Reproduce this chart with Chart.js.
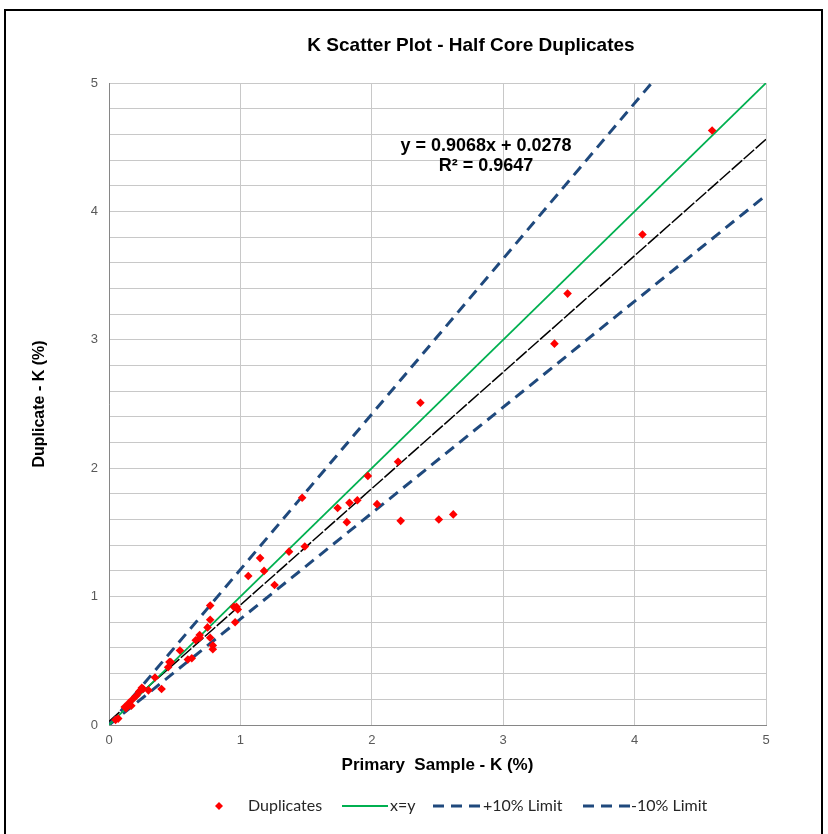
<!DOCTYPE html>
<html><head><meta charset="utf-8">
<script src="https://cdn.jsdelivr.net/npm/chart.js@4.4.0/dist/chart.umd.min.js"></script>
<style>html,body{margin:0;padding:0;background:#fff;} canvas{display:block}</style>
</head><body>
<canvas id="c" width="828" height="834"></canvas>
<script>
// ---- data ----
const dupX = [4.59, 4.06, 3.49, 3.39, 2.37, 2.20, 1.97, 1.47, 1.74, 1.83, 1.89, 2.04, 1.81, 2.22, 2.51, 2.62,
              1.49, 1.37, 1.15, 1.18, 1.06, 1.26, 0.97, 0.95, 0.98, 0.96, 0.77, 0.77, 0.75, 0.69, 0.69, 0.66,
              0.77, 0.79, 0.79, 0.54, 0.60, 0.63, 0.46, 0.47, 0.45, 0.35, 0.40, 0.30, 0.26, 0.25, 0.23, 0.21,
              0.18, 0.15, 0.17, 0.13, 0.12, 0.07, 0.05];
const dupY = [4.63, 3.82, 3.36, 2.97, 2.51, 2.05, 1.94, 1.77, 1.69, 1.73, 1.75, 1.72, 1.58, 1.59, 1.60, 1.64,
              1.39, 1.35, 1.30, 1.20, 1.16, 1.09, 0.92, 0.92, 0.90, 0.80, 0.93, 0.82, 0.76, 0.70, 0.68, 0.66,
              0.68, 0.62, 0.59, 0.58, 0.51, 0.52, 0.49, 0.49, 0.45, 0.37, 0.28, 0.27, 0.28, 0.29, 0.26, 0.23,
              0.20, 0.17, 0.15, 0.13, 0.14, 0.05, 0.04];
const xyLineX = [0, 5];     const xyLineY = [0, 5];
const plusLimX = [0, 4.13]; const plusLimY = [0, 5];
const minusLimX = [0, 5];   const minusLimY = [0, 4.125];
const trendX = [0, 5];      const trendY = [0.0278, 4.5618];
const seriesNames = ['Duplicates', 'x=y', '+10% Limit', '-10% Limit'];
const chartTitle = 'K Scatter Plot - Half Core Duplicates';
const equationLines = ['y = 0.9068x + 0.0278', 'R\u00B2 = 0.9647'];
const xAxisTitle = 'Primary  Sample - K (%)';
const yAxisTitle = 'Duplicate - K (%)';

const zip = (xs, ys) => xs.map((x, i) => ({x: x, y: ys[i]}));
const FONT = "'Liberation Sans', Arial, sans-serif";
const RED = '#ff0000', GREEN = '#00b050', NAVY = '#1f497d';
const GRID = '#c8c8c8';

const decor = {
  id: 'decor',
  beforeDraw(chart) {
    const ctx = chart.ctx;
    ctx.save();
    ctx.fillStyle = '#fff';
    ctx.fillRect(0, 0, chart.width, chart.height);
    ctx.restore();
  },
  afterDraw(chart) {
    const ctx = chart.ctx;
    ctx.save();
    // outer chart border
    ctx.strokeStyle = '#000';
    ctx.lineWidth = 2;
    ctx.strokeRect(5, 10, 817, 900);
    // title
    ctx.fillStyle = '#000';
    ctx.textAlign = 'center';
    ctx.textBaseline = 'middle';
    ctx.font = 'bold 19px ' + FONT;
    ctx.fillText(chartTitle, 471, 46);
    // trendline equation
    ctx.font = 'bold 18px ' + FONT;
    ctx.fillText(equationLines[0], 486, 146);
    ctx.fillText(equationLines[1], 486, 166);
    // legend
    const ly = 806;
    ctx.textAlign = 'left';
    ctx.font = '16px Lato, ' + FONT;
    // diamond
    ctx.fillStyle = RED;
    ctx.beginPath();
    ctx.moveTo(219, ly - 4); ctx.lineTo(223, ly); ctx.lineTo(219, ly + 4); ctx.lineTo(215, ly); ctx.closePath();
    ctx.fill();
    ctx.fillStyle = '#262626';
    ctx.fillText(seriesNames[0], 248, ly);
    // green line
    ctx.strokeStyle = GREEN; ctx.lineWidth = 2;
    ctx.beginPath(); ctx.moveTo(342, ly); ctx.lineTo(388, ly); ctx.stroke();
    ctx.fillText(seriesNames[1], 390, ly);
    // dashed lines
    ctx.strokeStyle = NAVY; ctx.lineWidth = 3; ctx.setLineDash([11, 7]);
    ctx.beginPath(); ctx.moveTo(433, ly); ctx.lineTo(480, ly); ctx.stroke();
    ctx.beginPath(); ctx.moveTo(583, ly); ctx.lineTo(630, ly); ctx.stroke();
    ctx.setLineDash([]);
    ctx.fillText(seriesNames[2], 483, ly);
    ctx.fillText(seriesNames[3], 631, ly);
    ctx.restore();
  }
};

new Chart(document.getElementById('c'), {
  type: 'scatter',
  data: {
    datasets: [
      { label: seriesNames[0], data: zip(dupX, dupY), pointStyle: 'rectRot', pointRadius: 4.3,
        pointBackgroundColor: RED, pointBorderColor: RED, pointBorderWidth: 0, showLine: false },
      { label: seriesNames[1], data: zip(xyLineX, xyLineY), showLine: true, pointRadius: 0,
        borderColor: GREEN, borderWidth: 1.75 },
      { label: seriesNames[2], data: zip(plusLimX, plusLimY), showLine: true, pointRadius: 0,
        borderColor: NAVY, borderWidth: 3, borderDash: [11, 7] },
      { label: seriesNames[3], data: zip(minusLimX, minusLimY), showLine: true, pointRadius: 0,
        borderColor: NAVY, borderWidth: 3, borderDash: [11, 7] },
      { label: 'Linear (Duplicates)', data: zip(trendX, trendY), showLine: true, pointRadius: 0,
        borderColor: '#000', borderWidth: 1.5, borderDash: [14, 2] }
    ]
  },
  options: {
    responsive: false,
    animation: false,
    devicePixelRatio: 1,
    layout: { padding: { left: 0, right: 62, top: 83, bottom: 49 } },
    plugins: { legend: { display: false }, title: { display: false }, tooltip: { enabled: false } },
    scales: {
      x: {
        type: 'linear', min: 0, max: 5, position: 'bottom',
        ticks: { stepSize: 1, color: '#595959', font: { family: FONT, size: 13 }, padding: 8 },
        grid: { color: GRID, drawTicks: false, lineWidth: 1 },
        border: { color: '#868686', width: 1 },
        title: { display: true, text: xAxisTitle, color: '#000',
                 font: { family: FONT, size: 17, weight: 'bold' }, padding: { top: 0, bottom: 9 } },
        afterFit: s => { s.height = 60; }
      },
      y: {
        type: 'linear', min: 0, max: 5,
        ticks: { stepSize: 0.2, maxTicksLimit: 100, autoSkip: false, color: '#595959',
                 font: { family: FONT, size: 13 }, padding: 11,
                 callback: v => Math.abs(v - Math.round(v)) < 1e-6 ? String(Math.round(v)) : '' },
        grid: { color: GRID, drawTicks: false, lineWidth: 1 },
        border: { color: '#868686', width: 1 },
        title: { display: true, text: yAxisTitle, color: '#000',
                 font: { family: FONT, size: 16, weight: 'bold' }, padding: { top: 30, bottom: 0 } },
        afterFit: s => { s.width = 109; }
      }
    }
  },
  plugins: [decor]
});
</script>
</body></html>
